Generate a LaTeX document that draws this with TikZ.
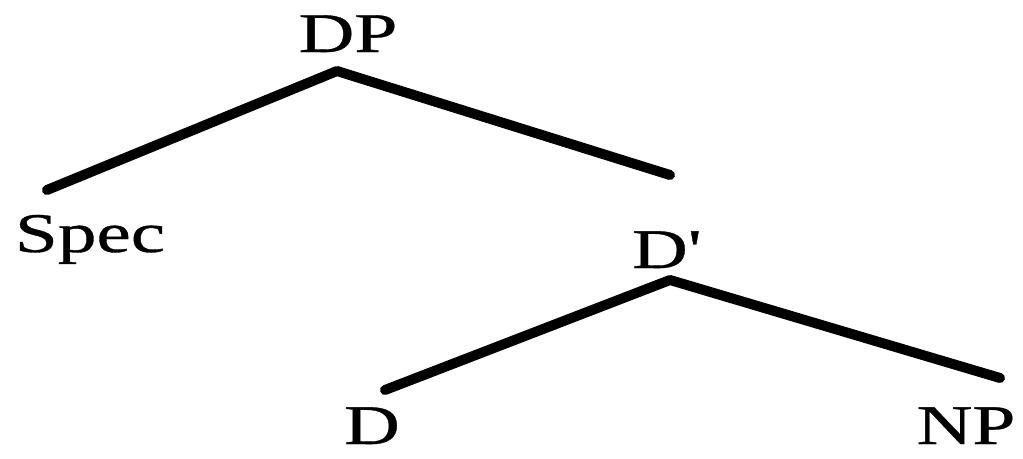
\documentclass[tikz,border=0pt]{standalone}
\usepackage{fontspec}
\setmainfont{Liberation Serif}[FakeStretch=1.38,FakeBold=0.6]
\begin{document}
\begin{tikzpicture}[x=1pt,y=-1pt,font=\fontsize{56}{60}\selectfont,
  lab/.style={inner sep=0pt,anchor=base},
  branch/.style={line width=10pt,line cap=round,line join=round}]
  \useasboundingbox (0,0) rectangle (1023,458);
  % labels
  \foreach \name/\lab/\x/\y in {dp/DP/348/52,spec/Spec/90/252,dbar/{D\textquotesingle}/665/268,d/D/372/444,np/NP/966/444}
    \node[lab] (\name) at (\x,\y) {\lab};
  % branch points
  \coordinate (dp-j) at (337,71);
  \coordinate (spec-j) at (47,190);
  \coordinate (dbar-in) at (670,175);
  \coordinate (dbar-j) at (670,280);
  \coordinate (d-j) at (385,390);
  \coordinate (np-j) at (1000,378);
  \draw[branch] (spec-j) -- (dp-j) -- (dbar-in);
  \draw[branch] (d-j) -- (dbar-j) -- (np-j);
\end{tikzpicture}
\end{document}
